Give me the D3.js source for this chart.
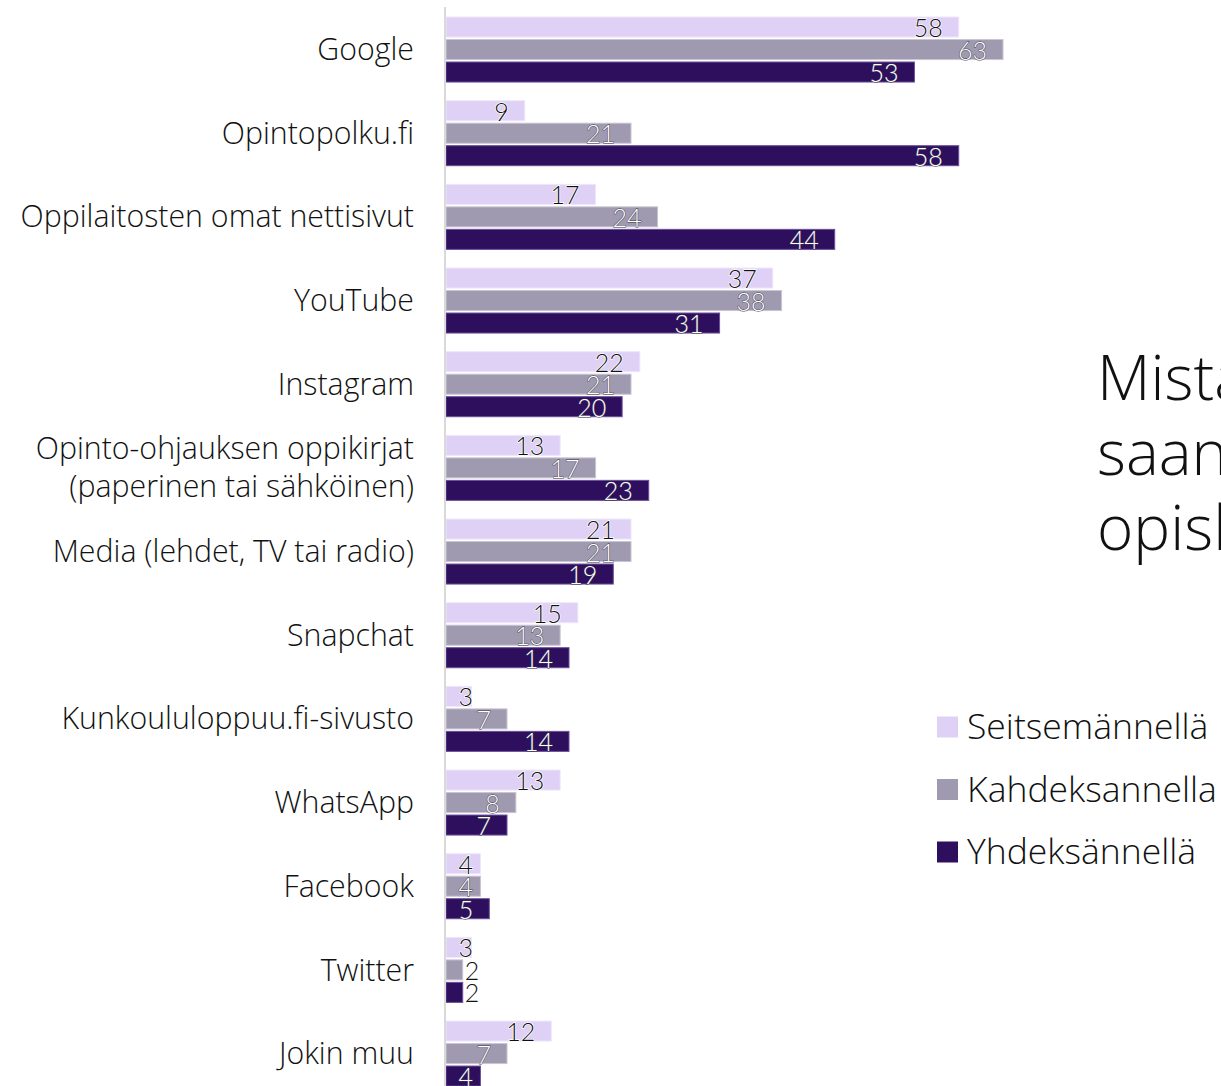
<!DOCTYPE html>
<html>
<head>
<meta charset="utf-8">
<script src="https://cdn.jsdelivr.net/npm/d3@7"></script>
<style>
  html, body { margin: 0; padding: 0; background: #fff; overflow: hidden; }
  svg { display: block; }
  text { font-family: "Open Sans", Lato, sans-serif; font-weight: 300; font-variant-ligatures: none; }
  text.val { font-family: Lato, "Open Sans", sans-serif; }
</style>
</head>
<body>
<svg id="chart" width="1221" height="1086"></svg>
<script>
const categories = [
  ["Google"],
  ["Opintopolku.fi"],
  ["Oppilaitosten omat nettisivut"],
  ["YouTube"],
  ["Instagram"],
  ["Opinto-ohjauksen oppikirjat", "(paperinen tai sähköinen)"],
  ["Media (lehdet, TV tai radio)"],
  ["Snapchat"],
  ["Kunkoululoppuu.fi-sivusto"],
  ["WhatsApp"],
  ["Facebook"],
  ["Twitter"],
  ["Jokin muu"]
];
const seriesNames = ["Seitsemännellä", "Kahdeksannella", "Yhdeksännellä"];
const seitsemannella = [58, 9, 17, 37, 22, 13, 21, 15, 3, 13, 4, 3, 12];
const kahdeksannella = [63, 21, 24, 38, 21, 17, 21, 13, 7, 8, 4, 2, 7];
const yhdeksannella  = [53, 58, 44, 31, 20, 23, 19, 14, 14, 7, 5, 2, 4];
const titleLines = ["Mistä olen saanut", "saan tietoa", "opiskelupaikoista?"];

const colors = ["#DFD0F6", "#A09AB0", "#2E0F5E"];
const borders = ["#EFE6FB", "#C9C5D3", "#6A4F9A"];
const seriesValues = [seitsemannella, kahdeksannella, yhdeksannella];

const svg = d3.select("#chart");
const x0 = 445;
const x = d3.scaleLinear().domain([0, 63]).range([x0, 1003]);
const catKeys = categories.map((c, i) => i);
const y = d3.scaleBand().domain(catKeys).range([7.7, 1095.4]).paddingInner(0.223).paddingOuter(0.1115);
const ySub = d3.scaleBand().domain([0, 1, 2]).range([0, y.bandwidth()]).paddingInner(0.11);

// category labels
const catG = svg.append("g");
categories.forEach((lines, i) => {
  const cy = y(i) + y.bandwidth() / 2;
  const lh = 38;
  const t = catG.append("text")
    .attr("x", 414)
    .attr("text-anchor", "end")
    .attr("font-size", 30.3)
    .attr("fill", "#111");
  lines.forEach((ln, j) => {
    t.append("tspan")
      .attr("x", 414)
      .attr("y", cy + (j - (lines.length - 1) / 2) * lh)
      .attr("dy", "0.35em")
      .text(ln);
  });
});

// bars
seriesValues.forEach((vals, s) => {
  const g = svg.append("g");
  g.selectAll("rect").data(vals).join("rect")
    .attr("x", x0 + 1)
    .attr("y", (d, i) => y(i) + ySub(s))
    .attr("width", d => x(d) - x0 - 1)
    .attr("height", ySub.bandwidth())
    .attr("fill", colors[s])
    .attr("stroke", borders[s])
    .attr("stroke-width", 1);
});

// value labels
seriesValues.forEach((vals, s) => {
  const g = svg.append("g");
  vals.forEach((d, i) => {
    const cy = y(i) + ySub(s) + ySub.bandwidth() / 2 + 1;
    const xe = x(d);
    const outside = (xe - x0) < 20;
    const t = g.append("text")
      .attr("class", "val")
      .attr("y", cy)
      .attr("dy", "0.36em")
      .attr("font-size", 25)
      .attr("paint-order", "stroke")
      .text(d);
    if (outside) {
      t.attr("x", xe + 2).attr("text-anchor", "start")
        .attr("fill", "#111").attr("stroke", "#fff").attr("stroke-width", 2);
    } else {
      t.attr("x", Math.max(xe - 16, x0 + 28)).attr("text-anchor", "end");
      if (s === 0) {
        t.attr("fill", "#111").attr("stroke", "#fff").attr("stroke-width", 1.5);
      } else {
        t.attr("fill", "#fff").attr("stroke", "#3a3a48").attr("stroke-width", 1.3).attr("stroke-opacity", 0.7);
      }
    }
  });
});

// axis line
svg.append("line")
  .attr("x1", x0).attr("x2", x0)
  .attr("y1", 7).attr("y2", 1086)
  .attr("stroke", "#D9D9D9").attr("stroke-width", 2);

// title
const title = svg.append("text")
  .attr("x", 1097)
  .attr("font-size", 62)
  .attr("fill", "#111");
titleLines.forEach((ln, j) => {
  title.append("tspan").attr("x", 1097).attr("y", 400 + j * 75).text(ln);
});

// legend
const leg = svg.append("g");
seriesNames.forEach((n, s) => {
  const cy = 727 + s * 62.5;
  leg.append("rect")
    .attr("x", 937).attr("y", cy - 10.5)
    .attr("width", 21).attr("height", 21)
    .attr("fill", colors[s]);
  leg.append("text")
    .attr("x", 967).attr("y", cy)
    .attr("dy", "0.35em")
    .attr("font-size", 35.5)
    .attr("fill", "#111")
    .text(n);
});
</script>
</body>
</html>
